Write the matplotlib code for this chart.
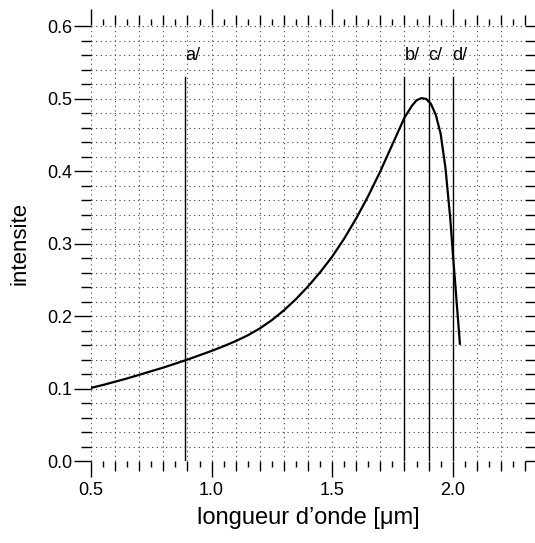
import numpy as np
import matplotlib.pyplot as plt
from matplotlib.ticker import MultipleLocator

plt.rcParams['font.family'] = ['Liberation Sans', 'DejaVu Sans']

# spectre
wavelength = [0.5, 0.55, 0.6, 0.65, 0.7, 0.75, 0.8, 0.85, 0.9, 0.95, 1.0, 1.05, 1.1,
              1.15, 1.2, 1.25, 1.3, 1.35, 1.4, 1.45, 1.5, 1.55, 1.6, 1.65, 1.7, 1.75,
              1.8, 1.83, 1.85, 1.87, 1.89, 1.91, 1.93, 1.95, 1.97, 1.99, 2.0, 2.03]
intensity = [0.101, 0.105, 0.1095, 0.114, 0.119, 0.124, 0.129, 0.1345, 0.140, 0.146,
             0.152, 0.1585, 0.1655, 0.1735, 0.183, 0.1945, 0.208, 0.2235, 0.241, 0.2605,
             0.282, 0.307, 0.335, 0.366, 0.400, 0.437, 0.474, 0.490, 0.498, 0.501,
             0.500, 0.493, 0.478, 0.452, 0.405, 0.335, 0.290, 0.162]

marker_pos = [0.89, 1.8, 1.9, 2.0]
marker_labels = ['a/', 'b/', 'c/', 'd/']
marker_top = 0.53
label_y = 0.56

fig = plt.figure(figsize=(5.35, 5.43), dpi=100)
ax = fig.add_axes([91/535, 1 - 461/543, 434/535, 436/543])

ax.plot(wavelength, intensity, color='black', lw=1.6, zorder=3)
for x, lab in zip(marker_pos, marker_labels):
    ax.plot([x, x], [0, marker_top], color='black', lw=1.0, zorder=3)
    ax.text(x, label_y, lab, ha='left', va='center', fontsize=13)

ax.set_xlim(0.5, 2.3)
ax.set_ylim(0.0, 0.602)

ax.xaxis.set_major_locator(MultipleLocator(0.5))
ax.xaxis.set_minor_locator(MultipleLocator(0.1))
ax.yaxis.set_major_locator(MultipleLocator(0.1))
ax.yaxis.set_minor_locator(MultipleLocator(0.02))
ax.xaxis.set_major_formatter(plt.FuncFormatter(lambda v, p: f'{v:.1f}'))
ax.yaxis.set_major_formatter(plt.FuncFormatter(lambda v, p: f'{v:.1f}'))

for s in ax.spines.values():
    s.set_visible(False)

ax.tick_params(axis='both', which='both', direction='out', top=True, right=True,
               labeltop=False, labelright=False, colors='black', labelsize=13)
ax.tick_params(axis='x', which='major', length=11.5, width=1.0, pad=3.5)
ax.tick_params(axis='x', which='minor', length=7, width=1.0)
ax.tick_params(axis='y', which='major', length=12, width=1.0, pad=1.5)
ax.tick_params(axis='y', which='minor', length=7, width=1.0)

# petites graduations a 0.05
for side in ['bottom', 'top']:
    sec = ax.secondary_xaxis(side)
    sec.set_xticks(np.arange(0.55, 2.3, 0.1))
    sec.tick_params(axis='x', direction='out', length=4.5, width=1.0,
                    labelbottom=False, labeltop=False)
    for s in sec.spines.values():
        s.set_visible(False)

dots = (0, (1, 3.2))
ax.grid(True, which='both', axis='both', color='0.25', lw=0.8, linestyle=dots)
ax.set_axisbelow(True)

ax.set_xlabel('longueur d’onde [μm]', fontsize=17, labelpad=6)
ax.set_ylabel('intensite', fontsize=16, labelpad=12)

fig.savefig('out.png', dpi=100)
